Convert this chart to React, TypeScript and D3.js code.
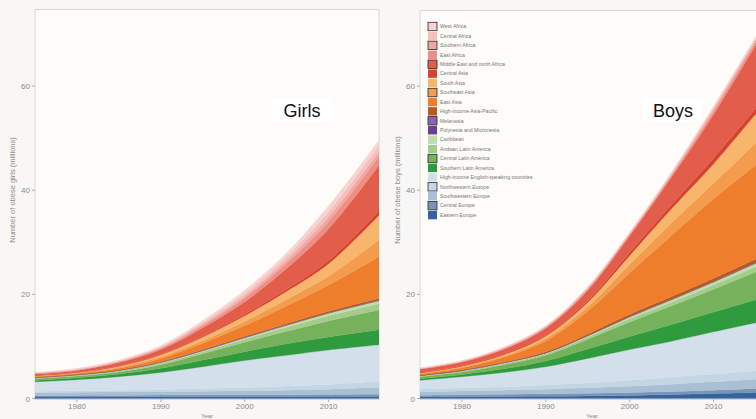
import { useEffect, useRef } from 'react'
import * as d3 from 'd3'

const years = [1975, 1980, 1985, 1990, 1995, 2000, 2005, 2010, 2016]
const xTicks = [1980, 1990, 2000, 2010]
const yTicks = [0, 20, 40, 60]

// legend order = top of the stack first
const regions = [
  'West Africa', 'Central Africa', 'Southern Africa', 'East Africa',
  'Middle East and north Africa', 'Central Asia', 'South Asia', 'Southeast Asia',
  'East Asia', 'High-income Asia-Pacific', 'Melanesia', 'Polynesia and Micronesia',
  'Caribbean', 'Andean Latin America', 'Central Latin America', 'Southern Latin America',
  'High-income English-speaking countries', 'Northwestern Europe', 'Southwestern Europe',
  'Central Europe', 'Eastern Europe'
]
const regionColors = [
  '#f7d4d2', '#f5bfbc', '#f2a7a1', '#ee8f86',
  '#e35d4b', '#d8402f', '#f8b66c', '#f39c4e',
  '#ef7e2c', '#b45a24', '#8d62b0', '#6a3d98',
  '#bfdcac', '#a4cd8c', '#76b25c', '#2f9b3e',
  '#d3e0eb', '#c4d5e4', '#a9bfd4',
  '#7a94b8', '#34649f'
]
const boxedRegions = [
  'West Africa', 'Southern Africa', 'Middle East and north Africa', 'Southeast Asia',
  'Melanesia', 'Central Latin America', 'Northwestern Europe', 'Central Europe'
]

// girls, millions
const gWestAfrica = [0.1, 0.15, 0.15, 0.25, 0.4, 0.6, 0.7, 1.1, 1.0]
const gCentralAfrica = [0.05, 0.1, 0.1, 0.15, 0.3, 0.5, 0.7, 1.0, 1.1]
const gSouthernAfrica = [0.05, 0.05, 0.1, 0.15, 0.3, 0.4, 0.6, 0.9, 1.0]
const gEastAfrica = [0.1, 0.1, 0.15, 0.25, 0.4, 0.7, 1.0, 1.4, 1.7]
const gMiddleEast = [0.25, 0.35, 0.6, 0.9, 1.6, 2.4, 4.0, 6.1, 8.8]
const gCentralAsia = [0.05, 0.05, 0.1, 0.1, 0.2, 0.3, 0.4, 0.6, 0.8]
const gSouthAsia = [0.1, 0.1, 0.2, 0.4, 0.7, 1.1, 1.6, 2.4, 4.7]
const gSoutheastAsia = [0.1, 0.1, 0.2, 0.3, 0.5, 0.8, 1.2, 1.7, 3.3]
const gEastAsia = [0.1, 0.15, 0.28, 0.6, 1.2, 2.05, 3.4, 5.05, 8.0]
const gHighIncomeAsiaPacific = [0.07, 0.07, 0.08, 0.1, 0.15, 0.19, 0.24, 0.28, 0.32]
const gMelanesia = [0.02, 0.02, 0.02, 0.03, 0.03, 0.04, 0.04, 0.04, 0.05]
const gPolynesia = [0.01, 0.01, 0.02, 0.02, 0.02, 0.02, 0.02, 0.03, 0.03]
const gCaribbean = [0.1, 0.1, 0.1, 0.15, 0.2, 0.3, 0.4, 0.5, 0.6]
const gAndean = [0.1, 0.15, 0.2, 0.3, 0.4, 0.6, 0.8, 1.0, 1.2]
const gCentralLatin = [0.3, 0.3, 0.4, 0.7, 1.2, 1.8, 2.4, 3.1, 3.8]
const gSouthernLatin = [0.3, 0.4, 0.5, 0.8, 1.3, 1.7, 2.2, 2.5, 2.9]
const gHighIncomeEnglish = [1.8, 2.1, 2.6, 3.3, 4.2, 5.2, 5.9, 6.6, 7.0]
const gNorthwesternEurope = [0.3, 0.3, 0.35, 0.4, 0.5, 0.6, 0.8, 0.9, 1.2]
const gSouthwesternEurope = [0.55, 0.6, 0.65, 0.65, 0.7, 0.8, 0.9, 1.05, 1.3]
const gCentralEurope = [0.25, 0.3, 0.3, 0.3, 0.35, 0.35, 0.35, 0.35, 0.4]
const gEasternEurope = [0.3, 0.3, 0.3, 0.35, 0.35, 0.35, 0.35, 0.4, 0.4]

// boys, millions
const bWestAfrica = [0.05, 0.1, 0.1, 0.1, 0.15, 0.15, 0.2, 0.3, 0.25]
const bCentralAfrica = [0.05, 0.05, 0.1, 0.1, 0.15, 0.15, 0.2, 0.3, 0.3]
const bSouthernAfrica = [0.05, 0.05, 0.1, 0.1, 0.15, 0.15, 0.25, 0.4, 0.35]
const bEastAfrica = [0.1, 0.1, 0.15, 0.2, 0.25, 0.25, 0.35, 0.6, 0.6]
const bMiddleEast = [0.6, 0.7, 0.9, 1.3, 2.0, 3.2, 5.3, 8.4, 13.0]
const bCentralAsia = [0.1, 0.1, 0.15, 0.2, 0.3, 0.6, 0.8, 1.1, 1.0]
const bSouthAsia = [0.1, 0.15, 0.25, 0.5, 0.9, 1.7, 2.7, 3.7, 6.0]
const bSoutheastAsia = [0.1, 0.15, 0.25, 0.4, 0.8, 1.6, 2.4, 3.0, 4.5]
const bEastAsia = [0.2, 0.4, 0.9, 2.1, 4.4, 8.0, 11.8, 15.3, 18.6]
const bHighIncomeAsiaPacific = [0.05, 0.1, 0.1, 0.2, 0.3, 0.4, 0.5, 0.6, 0.7]
const bMelanesia = [0.03, 0.03, 0.03, 0.03, 0.03, 0.04, 0.04, 0.05, 0.06]
const bPolynesia = [0.02, 0.02, 0.02, 0.02, 0.02, 0.03, 0.03, 0.03, 0.04]
const bCaribbean = [0.1, 0.1, 0.15, 0.15, 0.25, 0.4, 0.5, 0.6, 0.7]
const bAndean = [0.1, 0.15, 0.2, 0.3, 0.4, 0.6, 0.7, 0.8, 1.0]
const bCentralLatin = [0.4, 0.5, 0.8, 1.1, 1.9, 2.8, 3.6, 4.4, 5.6]
const bSouthernLatin = [0.3, 0.4, 0.7, 1.1, 1.8, 2.5, 3.2, 3.8, 4.5]
const bHighIncomeEnglish = [1.7, 2.2, 2.75, 3.5, 4.7, 5.9, 6.9, 8.1, 9.5]
const bNorthwesternEurope = [0.5, 0.55, 0.65, 0.8, 0.95, 1.15, 1.35, 1.5, 1.6]
const bSouthwesternEurope = [0.7, 0.75, 0.8, 0.9, 1.05, 1.2, 1.4, 1.6, 1.8]
const bCentralEurope = [0.3, 0.35, 0.4, 0.45, 0.5, 0.55, 0.6, 0.65, 0.8]
const bEasternEurope = [0.3, 0.35, 0.4, 0.45, 0.5, 0.6, 0.75, 0.95, 1.2]

const girlsSeries = [
  gWestAfrica, gCentralAfrica, gSouthernAfrica, gEastAfrica, gMiddleEast, gCentralAsia,
  gSouthAsia, gSoutheastAsia, gEastAsia, gHighIncomeAsiaPacific, gMelanesia, gPolynesia,
  gCaribbean, gAndean, gCentralLatin, gSouthernLatin, gHighIncomeEnglish,
  gNorthwesternEurope, gSouthwesternEurope, gCentralEurope, gEasternEurope
]
const boysSeries = [
  bWestAfrica, bCentralAfrica, bSouthernAfrica, bEastAfrica, bMiddleEast, bCentralAsia,
  bSouthAsia, bSoutheastAsia, bEastAsia, bHighIncomeAsiaPacific, bMelanesia, bPolynesia,
  bCaribbean, bAndean, bCentralLatin, bSouthernLatin, bHighIncomeEnglish,
  bNorthwesternEurope, bSouthwesternEurope, bCentralEurope, bEasternEurope
]

const WIDTH = 756
const HEIGHT = 419
const FONT = '"Liberation Sans", Arial, sans-serif'

interface PanelOpts {
  id: string
  series: number[][]
  left: number
  top: number
  yLabel: string
  title: string
  titleX: number
  legend: boolean
}

function drawPanel(svg: d3.Selection<SVGSVGElement, unknown, null, undefined>, o: PanelOpts) {
  const plotW = 344
  const bottom = 399.5
  const x = d3.scaleLinear().domain([1975, 2016]).range([o.left, o.left + plotW])
  const y = d3.scaleLinear().domain([0, 74.7]).range([398.5, 9.5])

  const rows = years.map((year, i) => {
    const row: Record<string, number> = { year }
    regions.forEach((r, k) => { row[r] = o.series[k][i] })
    return row
  })

  // stack from the bottom (Eastern Europe) up
  const keys = regions.slice().reverse()
  const stacked = d3.stack<Record<string, number>>().keys(keys)(rows)

  const clipId = `clip-${o.id}`
  svg.append('clipPath').attr('id', clipId)
    .append('rect')
    .attr('x', o.left).attr('y', o.top)
    .attr('width', plotW).attr('height', bottom - o.top)

  svg.append('rect')
    .attr('x', o.left).attr('y', o.top)
    .attr('width', plotW).attr('height', bottom - o.top)
    .attr('fill', '#fdfcf9')
    .attr('stroke', '#d9d7d3')
    .attr('stroke-width', 1)

  const area = d3.area<d3.SeriesPoint<Record<string, number>>>()
    .x(d => x(d.data.year))
    .y0(d => y(d[0]))
    .y1(d => y(d[1]))
    .curve(d3.curveCatmullRom.alpha(0.5))

  const colorOf = (key: string) => regionColors[regions.indexOf(key)]

  svg.append('g')
    .attr('clip-path', `url(#${clipId})`)
    .selectAll('path')
    .data(stacked)
    .enter().append('path')
    .attr('d', d => area(d) || '')
    .attr('fill', d => colorOf(d.key))
    .attr('stroke', d => colorOf(d.key))
    .attr('stroke-width', 0.3)

  // y axis
  const yAxis = svg.append('g').style('font-family', FONT)
  yTicks.forEach(t => {
    yAxis.append('line')
      .attr('x1', o.left - 3).attr('x2', o.left)
      .attr('y1', y(t)).attr('y2', y(t))
      .attr('stroke', '#999').attr('stroke-width', 0.8)
    yAxis.append('text')
      .attr('x', o.left - 5).attr('y', y(t) + 3)
      .attr('text-anchor', 'end')
      .style('font-size', '8px')
      .style('fill', '#8a8a8a')
      .text(t)
  })

  // x axis
  const xAxis = svg.append('g').style('font-family', FONT)
  xTicks.forEach(t => {
    xAxis.append('line')
      .attr('x1', x(t)).attr('x2', x(t))
      .attr('y1', bottom).attr('y2', bottom + 2.5)
      .attr('stroke', '#999').attr('stroke-width', 0.8)
    xAxis.append('text')
      .attr('x', x(t)).attr('y', 408.5)
      .attr('text-anchor', 'middle')
      .style('font-size', '8px')
      .style('fill', '#8a8a8a')
      .text(t)
  })
  xAxis.append('text')
    .attr('x', o.left + plotW / 2).attr('y', 418)
    .attr('text-anchor', 'middle')
    .style('font-size', '6px')
    .style('fill', '#8a8a8a')
    .text('Year')

  svg.append('text')
    .attr('transform', `translate(${o.left - 20},190) rotate(-90)`)
    .attr('text-anchor', 'middle')
    .style('font-family', FONT)
    .style('font-size', '7.5px')
    .style('fill', '#8a8a8a')
    .text(o.yLabel)

  // panel title with white box
  svg.append('rect')
    .attr('x', o.titleX - 30).attr('y', 98)
    .attr('width', 60).attr('height', 24)
    .attr('fill', '#ffffff')
  svg.append('text')
    .attr('x', o.titleX).attr('y', 117)
    .attr('text-anchor', 'middle')
    .style('font-family', FONT)
    .style('font-size', '18px')
    .style('fill', '#111')
    .text(o.title)

  if (o.legend) {
    const lg = svg.append('g').style('font-family', FONT)
    regions.forEach((r, i) => {
      const ly = 22.3 + i * 9.43
      lg.append('rect')
        .attr('x', 428).attr('y', ly)
        .attr('width', 9).attr('height', 8.4)
        .attr('fill', regionColors[i])
        .attr('stroke', boxedRegions.includes(r) ? '#2a2a2a' : 'none')
        .attr('stroke-width', 0.8)
      lg.append('text')
        .attr('x', 440).attr('y', ly + 6)
        .style('font-size', '5.2px')
        .style('fill', '#777')
        .text(r)
    })
  }
}

export default function App() {
  const svgRef = useRef<SVGSVGElement>(null)

  useEffect(() => {
    if (!svgRef.current) return
    const svg = d3.select(svgRef.current)
    svg.selectAll('*').remove()

    svg.append('rect').attr('width', WIDTH).attr('height', HEIGHT).attr('fill', '#f8f7f5')

    drawPanel(svg, {
      id: 'girls', series: girlsSeries, left: 35, top: 9.5,
      yLabel: 'Number of obese girls (millions)', title: 'Girls', titleX: 302, legend: false
    })
    drawPanel(svg, {
      id: 'boys', series: boysSeries, left: 420, top: 10.5,
      yLabel: 'Number of obese boys (millions)', title: 'Boys', titleX: 673, legend: true
    })
  }, [])

  return (
    <svg
      ref={svgRef}
      width={WIDTH}
      height={HEIGHT}
      style={{ position: 'absolute', left: 0, top: 0, display: 'block' }}
    />
  )
}
